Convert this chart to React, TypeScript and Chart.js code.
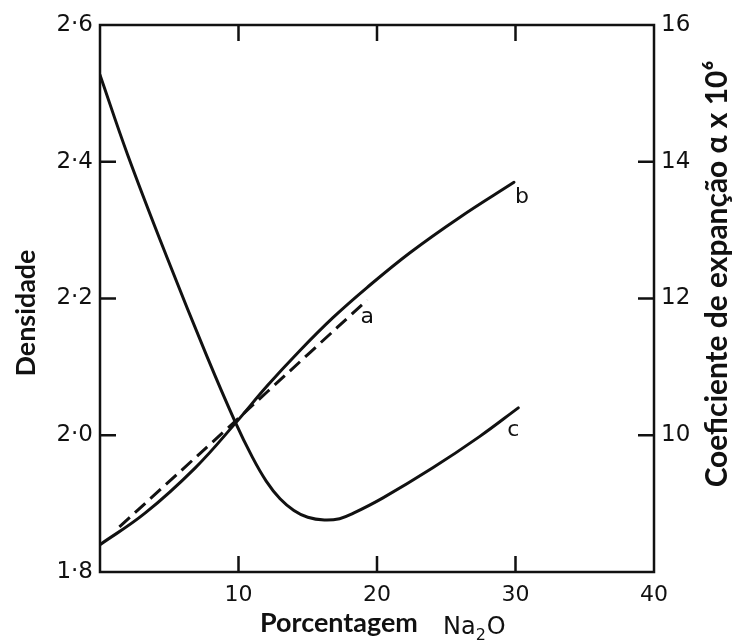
import { useEffect, useRef } from "react";
import { Chart, registerables } from "chart.js";

Chart.register(...registerables);

// Axis ticks
const xTickValues = [10, 20, 30, 40];
const densityTickValues = [1.8, 2.0, 2.2, 2.4, 2.6];
const expansionTickValues = [10, 12, 14, 16];

// Curve b: density (left axis)
const curveBX = [0, 3.25, 6.86, 9.75, 12.06, 14.44, 16.82, 19.28, 22.38, 25.99, 29.89];
const curveBY = [1.84, 1.886, 1.952, 2.017, 2.072, 2.124, 2.172, 2.216, 2.267, 2.319, 2.37];

// Curve a: density (left axis), dashed
const curveAX = [1.4, 5.3, 9.2, 12.1, 15.0, 19.3];
const curveAY = [1.866, 1.938, 2.01, 2.064, 2.118, 2.198];

// Curve c: expansion coefficient (right axis)
const curveCX = [0, 2.0, 4.84, 7.73, 9.75, 11, 12, 13, 14, 15, 16.2, 17.3, 18.3, 20.4, 24, 27.4, 30.2];
const curveCY = [15.27, 14.1, 12.6, 11.15, 10.2, 9.68, 9.33, 9.07, 8.9, 8.8, 8.76, 8.78, 8.86, 9.08, 9.52, 9.98, 10.4];

const curveLabels = ["a", "b", "c"];

const toPts = (xs: number[], ys: number[]) => xs.map((x, i) => ({ x, y: ys[i] }));

const TICK_FONT = "DejaVu Sans";
const TITLE_FONT = "Lato";

export default function App() {
  const ref = useRef<HTMLCanvasElement | null>(null);

  useEffect(() => {
    if (!ref.current) return;

    const framePlugin = {
      id: "frameTicks",
      afterDatasetsDraw(chart: any) {
        const { ctx, chartArea: ca, scales } = chart;
        const L = 16;
        ctx.save();
        ctx.strokeStyle = "#111";
        ctx.lineWidth = 2.5;
        ctx.strokeRect(ca.left, ca.top, ca.right - ca.left, ca.bottom - ca.top);
        ctx.beginPath();
        [10, 20, 30].forEach((v) => {
          const px = scales.x.getPixelForValue(v);
          ctx.moveTo(px, ca.bottom);
          ctx.lineTo(px, ca.bottom - L);
          ctx.moveTo(px, ca.top);
          ctx.lineTo(px, ca.top + L);
        });
        [2.0, 2.2, 2.4].forEach((v) => {
          const py = scales.y.getPixelForValue(v);
          ctx.moveTo(ca.left, py);
          ctx.lineTo(ca.left + L, py);
        });
        [10, 12, 14].forEach((v) => {
          const py = scales.y2.getPixelForValue(v);
          ctx.moveTo(ca.right, py);
          ctx.lineTo(ca.right - L, py);
        });
        ctx.stroke();

        // curve end labels
        ctx.fillStyle = "#111";
        ctx.font = `22px "${TICK_FONT}"`;
        ctx.textAlign = "center";
        ctx.textBaseline = "middle";
        const ends = [
          { x: curveAX[curveAX.length - 1], y: curveAY[curveAY.length - 1], s: scales.y, dx: 0, dy: 17 },
          { x: curveBX[curveBX.length - 1], y: curveBY[curveBY.length - 1], s: scales.y, dx: 8, dy: 15 },
          { x: curveCX[curveCX.length - 1], y: curveCY[curveCY.length - 1], s: scales.y2, dx: -5, dy: 22 },
        ];
        ends.forEach((e, i) => {
          ctx.fillText(curveLabels[i], scales.x.getPixelForValue(e.x) + e.dx, e.s.getPixelForValue(e.y) + e.dy);
        });

        // axis titles
        const fitFont = (text: string, target: number, weight: string, family: string) => {
          let size = 24;
          ctx.font = `${weight} ${size}px "${family}"`;
          const w = ctx.measureText(text).width;
          size = size * (target / w);
          ctx.font = `${weight} ${size}px "${family}"`;
        };

        ctx.textAlign = "center";
        ctx.textBaseline = "alphabetic";
        // left title
        ctx.save();
        ctx.translate(35, 313);
        ctx.rotate(-Math.PI / 2);
        fitFont("Densidade", 127, "bold", TITLE_FONT);
        ctx.fillText("Densidade", 0, 0);
        ctx.restore();

        // right title
        ctx.save();
        const rt = "Coeficiente de expanção α x 10⁶";
        ctx.translate(727, 274);
        ctx.rotate(-Math.PI / 2);
        fitFont(rt, 427, "bold", TITLE_FONT);
        ctx.fillText(rt, 0, 0);
        ctx.restore();

        // bottom title
        fitFont("Porcentagem", 158, "bold", TITLE_FONT);
        ctx.textAlign = "left";
        ctx.fillText("Porcentagem", 260, 632);
        ctx.font = `24px "${TICK_FONT}"`;
        ctx.fillText("Na", 443, 634);
        const naW = ctx.measureText("Na").width;
        ctx.font = `16px "${TICK_FONT}"`;
        ctx.fillText("2", 443 + naW, 640);
        const twoW = ctx.measureText("2").width;
        ctx.font = `24px "${TICK_FONT}"`;
        ctx.fillText("O", 443 + naW + twoW + 1, 634);
        ctx.restore();
      },
    };

    const lineStyle = {
      showLine: true,
      borderColor: "#111",
      borderWidth: 3,
      pointRadius: 0,
      tension: 0.4,
      borderCapStyle: "round",
      borderJoinStyle: "round",
    };

    const chart = new Chart(ref.current, {
      type: "scatter",
      data: {
        datasets: [
          { ...lineStyle, label: "a", data: toPts(curveAX, curveAY), yAxisID: "y", borderDash: [14, 7], borderCapStyle: "butt" },
          { ...lineStyle, label: "b", data: toPts(curveBX, curveBY), yAxisID: "y" },
          { ...lineStyle, label: "c", data: toPts(curveCX, curveCY), yAxisID: "y2" },
        ],
      },
      options: {
        animation: false,
        responsive: false,
        layout: { padding: { top: 25, left: 0, right: 0, bottom: 0 } },
        plugins: { legend: { display: false }, tooltip: { enabled: false } },
        scales: {
          x: {
            type: "linear",
            min: 0,
            max: 40,
            afterFit: (s: any) => {
              s.height = 69;
            },
            afterBuildTicks: (s: any) => {
              s.ticks = [0, ...xTickValues].map((v) => ({ value: v }));
            },
            grid: { display: false, drawTicks: false },
            border: { display: false },
            ticks: {
              padding: 10,
              color: "#111",
              font: { family: TICK_FONT, size: 22 },
              callback: (v: any) => (v === 0 ? "" : String(v)),
            },
          },
          y: {
            type: "linear",
            position: "left",
            min: 1.8,
            max: 2.6,
            afterFit: (s: any) => {
              s.width = 100;
            },
            afterBuildTicks: (s: any) => {
              s.ticks = densityTickValues.map((v) => ({ value: v }));
            },
            grid: { display: false, drawTicks: false },
            border: { display: false },
            ticks: {
              padding: 7,
              color: "#111",
              font: { family: TICK_FONT, size: 23 },
              callback: (v: any) => Number(v).toFixed(1).replace(".", "·"),
            },
          },
          y2: {
            type: "linear",
            position: "right",
            min: 8,
            max: 16,
            afterFit: (s: any) => {
              s.width = 81;
            },
            afterBuildTicks: (s: any) => {
              s.ticks = [8, ...expansionTickValues].map((v) => ({ value: v }));
            },
            grid: { display: false, drawTicks: false },
            border: { display: false },
            ticks: {
              padding: 7,
              color: "#111",
              font: { family: TICK_FONT, size: 23 },
              callback: (v: any) => (v === 8 ? "" : String(v)),
            },
          },
        },
      },
      plugins: [framePlugin],
    } as any);

    return () => chart.destroy();
  }, []);

  return (
    <div style={{ position: "absolute", left: 0, top: 0, width: 735, height: 641, background: "#fff" }}>
      <canvas ref={ref} width={735} height={641} style={{ width: 735, height: 641, display: "block" }} />
    </div>
  );
}
